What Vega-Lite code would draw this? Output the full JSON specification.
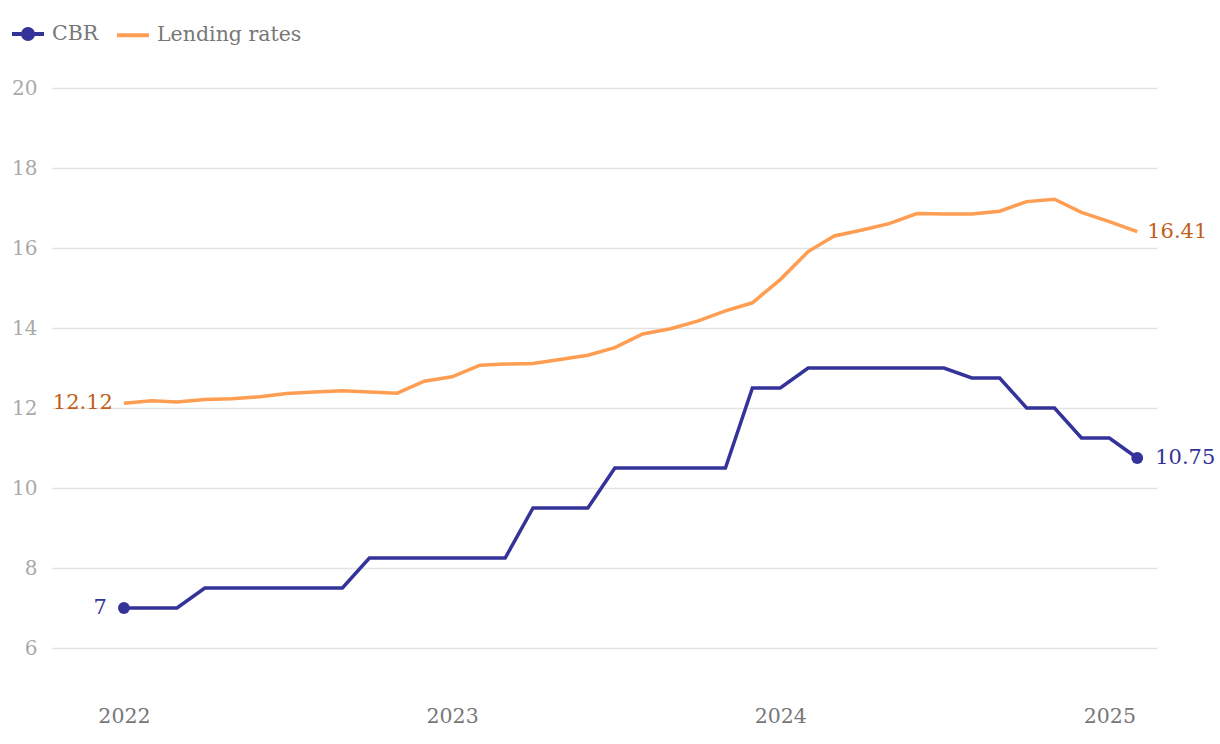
{
  "$schema": "https://vega.github.io/schema/vega-lite/v6.json",
  "width": 1105,
  "height": 600,
  "autosize": {"type": "none"},
  "padding": {"left": 52, "top": 88, "right": 63, "bottom": 56},
  "background": "white",
  "config": {"view": {"stroke": null}, "font": "DejaVu Serif"},
  "datasets": {
    "rates": [
      {"date": "2022-01-01", "series": "CBR", "value": 7},
      {"date": "2022-02-01", "series": "CBR", "value": 7},
      {"date": "2022-03-01", "series": "CBR", "value": 7},
      {"date": "2022-04-01", "series": "CBR", "value": 7.5},
      {"date": "2022-05-01", "series": "CBR", "value": 7.5},
      {"date": "2022-06-01", "series": "CBR", "value": 7.5},
      {"date": "2022-07-01", "series": "CBR", "value": 7.5},
      {"date": "2022-08-01", "series": "CBR", "value": 7.5},
      {"date": "2022-09-01", "series": "CBR", "value": 7.5},
      {"date": "2022-10-01", "series": "CBR", "value": 8.25},
      {"date": "2022-11-01", "series": "CBR", "value": 8.25},
      {"date": "2022-12-01", "series": "CBR", "value": 8.25},
      {"date": "2023-01-01", "series": "CBR", "value": 8.25},
      {"date": "2023-02-01", "series": "CBR", "value": 8.25},
      {"date": "2023-03-01", "series": "CBR", "value": 8.25},
      {"date": "2023-04-01", "series": "CBR", "value": 9.5},
      {"date": "2023-05-01", "series": "CBR", "value": 9.5},
      {"date": "2023-06-01", "series": "CBR", "value": 9.5},
      {"date": "2023-07-01", "series": "CBR", "value": 10.5},
      {"date": "2023-08-01", "series": "CBR", "value": 10.5},
      {"date": "2023-09-01", "series": "CBR", "value": 10.5},
      {"date": "2023-10-01", "series": "CBR", "value": 10.5},
      {"date": "2023-11-01", "series": "CBR", "value": 10.5},
      {"date": "2023-12-01", "series": "CBR", "value": 12.5},
      {"date": "2024-01-01", "series": "CBR", "value": 12.5},
      {"date": "2024-02-01", "series": "CBR", "value": 13},
      {"date": "2024-03-01", "series": "CBR", "value": 13},
      {"date": "2024-04-01", "series": "CBR", "value": 13},
      {"date": "2024-05-01", "series": "CBR", "value": 13},
      {"date": "2024-06-01", "series": "CBR", "value": 13},
      {"date": "2024-07-01", "series": "CBR", "value": 13},
      {"date": "2024-08-01", "series": "CBR", "value": 12.75},
      {"date": "2024-09-01", "series": "CBR", "value": 12.75},
      {"date": "2024-10-01", "series": "CBR", "value": 12},
      {"date": "2024-11-01", "series": "CBR", "value": 12},
      {"date": "2024-12-01", "series": "CBR", "value": 11.25},
      {"date": "2025-01-01", "series": "CBR", "value": 11.25},
      {"date": "2025-02-01", "series": "CBR", "value": 10.75},
      {"date": "2022-01-01", "series": "Lending rates", "value": 12.12},
      {"date": "2022-02-01", "series": "Lending rates", "value": 12.18},
      {"date": "2022-03-01", "series": "Lending rates", "value": 12.15},
      {"date": "2022-04-01", "series": "Lending rates", "value": 12.21},
      {"date": "2022-05-01", "series": "Lending rates", "value": 12.23},
      {"date": "2022-06-01", "series": "Lending rates", "value": 12.28},
      {"date": "2022-07-01", "series": "Lending rates", "value": 12.36},
      {"date": "2022-08-01", "series": "Lending rates", "value": 12.4},
      {"date": "2022-09-01", "series": "Lending rates", "value": 12.43},
      {"date": "2022-10-01", "series": "Lending rates", "value": 12.4},
      {"date": "2022-11-01", "series": "Lending rates", "value": 12.37},
      {"date": "2022-12-01", "series": "Lending rates", "value": 12.67},
      {"date": "2023-01-01", "series": "Lending rates", "value": 12.78},
      {"date": "2023-02-01", "series": "Lending rates", "value": 13.07},
      {"date": "2023-03-01", "series": "Lending rates", "value": 13.1},
      {"date": "2023-04-01", "series": "Lending rates", "value": 13.11},
      {"date": "2023-05-01", "series": "Lending rates", "value": 13.21},
      {"date": "2023-06-01", "series": "Lending rates", "value": 13.32},
      {"date": "2023-07-01", "series": "Lending rates", "value": 13.51},
      {"date": "2023-08-01", "series": "Lending rates", "value": 13.85},
      {"date": "2023-09-01", "series": "Lending rates", "value": 13.98},
      {"date": "2023-10-01", "series": "Lending rates", "value": 14.17},
      {"date": "2023-11-01", "series": "Lending rates", "value": 14.43},
      {"date": "2023-12-01", "series": "Lending rates", "value": 14.63},
      {"date": "2024-01-01", "series": "Lending rates", "value": 15.21},
      {"date": "2024-02-01", "series": "Lending rates", "value": 15.91},
      {"date": "2024-03-01", "series": "Lending rates", "value": 16.3},
      {"date": "2024-04-01", "series": "Lending rates", "value": 16.45},
      {"date": "2024-05-01", "series": "Lending rates", "value": 16.61},
      {"date": "2024-06-01", "series": "Lending rates", "value": 16.86},
      {"date": "2024-07-01", "series": "Lending rates", "value": 16.85},
      {"date": "2024-08-01", "series": "Lending rates", "value": 16.85},
      {"date": "2024-09-01", "series": "Lending rates", "value": 16.92},
      {"date": "2024-10-01", "series": "Lending rates", "value": 17.16},
      {"date": "2024-11-01", "series": "Lending rates", "value": 17.22},
      {"date": "2024-12-01", "series": "Lending rates", "value": 16.89},
      {"date": "2025-01-01", "series": "Lending rates", "value": 16.66},
      {"date": "2025-02-01", "series": "Lending rates", "value": 16.41}
    ],
    "startLabels": [
      {"date": "2022-01-01", "series": "CBR", "value": 7, "label": "7"},
      {"date": "2022-01-01", "series": "Lending rates", "value": 12.12, "label": "12.12"}
    ],
    "endLabels": [
      {"date": "2025-02-01", "series": "CBR", "value": 10.75, "label": "10.75"},
      {"date": "2025-02-01", "series": "Lending rates", "value": 16.41, "label": "16.41"}
    ]
  },
  "encoding": {
    "x": {
      "field": "date",
      "type": "temporal",
      "scale": {
        "type": "utc",
        "domain": [
          {"year": 2021, "month": 10, "date": 13, "utc": true},
          {"year": 2025, "month": 2, "date": 23, "utc": true}
        ]
      },
      "axis": {
        "values": [
          {"year": 2022, "month": 1, "date": 1, "utc": true},
          {"year": 2023, "month": 1, "date": 1, "utc": true},
          {"year": 2024, "month": 1, "date": 1, "utc": true},
          {"year": 2025, "month": 1, "date": 1, "utc": true}
        ],
        "format": "%Y",
        "title": null,
        "grid": false,
        "domain": false,
        "ticks": false,
        "labelFont": "DejaVu Serif",
        "labelFontSize": 20.5,
        "labelColor": "#777777",
        "labelPadding": 18
      }
    },
    "y": {
      "field": "value",
      "type": "quantitative",
      "scale": {"domain": [5, 20], "nice": false, "zero": false},
      "axis": {
        "values": [6, 8, 10, 12, 14, 16, 18, 20],
        "title": null,
        "grid": true,
        "gridColor": "#e3e3e3",
        "gridWidth": 1.5,
        "domain": false,
        "ticks": false,
        "labelFont": "DejaVu Serif",
        "labelFontSize": 20,
        "labelColor": "#aaaaaa",
        "labelPadding": 15
      }
    }
  },
  "layer": [
    {
      "data": {"name": "rates"},
      "mark": {"type": "line", "strokeWidth": 3.5},
      "encoding": {
        "color": {
          "field": "series",
          "type": "nominal",
          "scale": {"domain": ["CBR", "Lending rates"], "range": ["#333399", "#ff9d52"]},
          "legend": {
            "orient": "none",
            "legendX": -42,
            "legendY": -72,
            "direction": "horizontal",
            "title": null,
            "padding": 0,
            "symbolSize": 1024,
            "symbolStrokeWidth": 4,
            "labelFont": "DejaVu Serif",
            "labelFontSize": 20.5,
            "labelColor": "#777777",
            "labelOffset": 6,
            "columnPadding": 10,
            "encode": {
              "symbols": {
                "update": {
                  "shape": [
                    {"test": "datum.value === 'CBR'", "value": "M-1,0L1,0M-0.3125,0A0.3125,0.3125,0,1,1,0.3125,0A0.3125,0.3125,0,1,1,-0.3125,0Z"},
                    {"value": "M-1,0L1,0"}
                  ],
                  "fill": [
                    {"test": "datum.value === 'CBR'", "value": "#333399"},
                    {"value": "transparent"}
                  ],
                  "strokeWidth": {"value": 4}
                }
              }
            }
          }
        }
      }
    },
    {
      "data": {"name": "endLabels"},
      "transform": [{"filter": {"field": "series", "equal": "CBR"}}],
      "mark": {"type": "point", "filled": true, "size": 140, "opacity": 1, "color": "#333399"}
    },
    {
      "data": {"name": "startLabels"},
      "transform": [{"filter": {"field": "series", "equal": "CBR"}}],
      "mark": {"type": "point", "filled": true, "size": 140, "opacity": 1, "color": "#333399"}
    },
    {
      "data": {"name": "startLabels"},
      "transform": [{"filter": {"field": "series", "equal": "CBR"}}],
      "mark": {"type": "text", "align": "right", "baseline": "middle", "dx": -17, "fontSize": 21, "font": "DejaVu Serif", "color": "#333399"},
      "encoding": {"text": {"field": "label"}}
    },
    {
      "data": {"name": "startLabels"},
      "transform": [{"filter": {"field": "series", "equal": "Lending rates"}}],
      "mark": {"type": "text", "align": "right", "baseline": "middle", "dx": -11, "fontSize": 21, "font": "DejaVu Serif", "color": "#bf5f1a"},
      "encoding": {"text": {"field": "label"}}
    },
    {
      "data": {"name": "endLabels"},
      "transform": [{"filter": {"field": "series", "equal": "CBR"}}],
      "mark": {"type": "text", "align": "left", "baseline": "middle", "dx": 18, "fontSize": 21, "font": "DejaVu Serif", "color": "#333399"},
      "encoding": {"text": {"field": "label"}}
    },
    {
      "data": {"name": "endLabels"},
      "transform": [{"filter": {"field": "series", "equal": "Lending rates"}}],
      "mark": {"type": "text", "align": "left", "baseline": "middle", "dx": 10, "fontSize": 21, "font": "DejaVu Serif", "color": "#bf5f1a"},
      "encoding": {"text": {"field": "label"}}
    }
  ]
}
